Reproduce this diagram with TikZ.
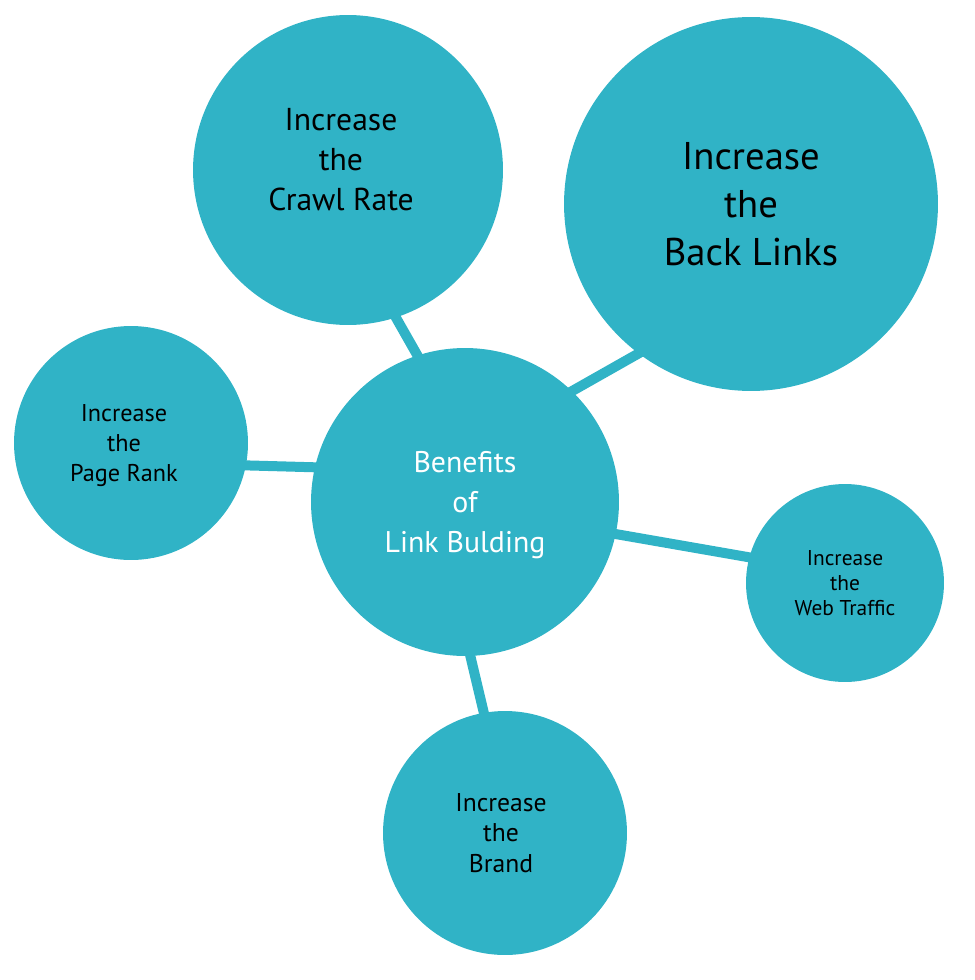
\documentclass[tikz,border=0pt]{standalone}
\usepackage{fontspec}
\setmainfont{PT Sans}
\usetikzlibrary{backgrounds}
\definecolor{LB}{HTML}{30B3C6}
\newcommand{\padln}[2]{\mbox{#2\kern#1}}

\begin{document}
\begin{tikzpicture}[x=0.02cm, y=-0.02cm,
    bubble/.style={circle, fill=LB, draw=none, inner sep=0pt, align=center, text depth=0pt},
    spoke/.style={draw=LB, line width=0.2cm, shorten <=-6pt, shorten >=-6pt}]
  \useasboundingbox (0,0) rectangle (974,980);

  % hub
  \node[bubble, minimum size=6.16cm, text=white, font=\fontsize{17}{22.8}\selectfont]
    (hub) at (465,502) {Benefits\\of\\Link Bulding};

  % benefits round it
  \node[bubble, minimum size=6.2cm, text depth=0.44cm, font=\fontsize{18}{22.8}\selectfont]
    (crawl) at (348,170) {\padln{0.28cm}{Increase}\\\padln{0.28cm}{the}\\\padln{0.28cm}{Crawl Rate}};
  \node[bubble, minimum size=7.48cm, font=\fontsize{22}{27.3}\selectfont]
    (back) at (751,204) {Increase\\the\\Back Links};
  \node[bubble, minimum size=4.68cm, font=\fontsize{13.8}{17}\selectfont]
    (rank) at (131,443) {\padln{0.28cm}{Increase}\\\padln{0.28cm}{the}\\\padln{0.28cm}{Page Rank}};
  \node[bubble, minimum size=3.96cm, font=\fontsize{12.2}{14.2}\selectfont]
    (traffic) at (845,583) {Increase\\the\\Web Traffic};
  \node[bubble, minimum size=4.88cm, font=\fontsize{14.6}{17.4}\selectfont]
    (brand) at (505,833) {\padln{0.16cm}{Increase}\\\padln{0.16cm}{the}\\\padln{0.16cm}{Brand}};

  \begin{scope}[on background layer]
    \draw[spoke] (hub.108.8) -- (crawl.288.4);
    \draw[spoke] (hub.46.6) -- (back.233.4);
    \draw[spoke] (hub.167.5) -- (rank.349.4);
    \draw[spoke] (hub.-12.9) -- (traffic.165.1);
    \draw[spoke] (hub.272.6) -- (brand.100.8);
  \end{scope}
\end{tikzpicture}
\end{document}
